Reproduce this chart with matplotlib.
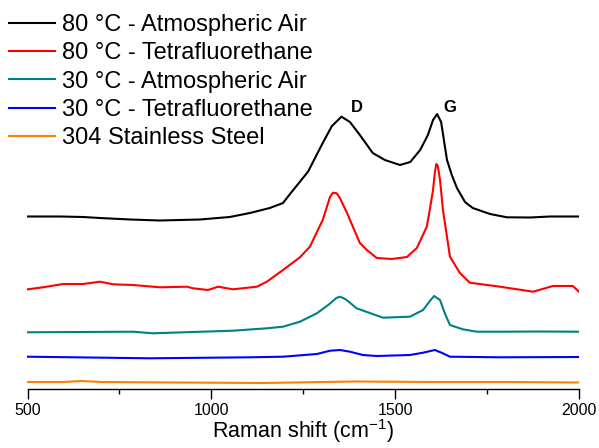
import numpy as np
import matplotlib.pyplot as plt
from matplotlib.ticker import MultipleLocator

plt.rcParams['font.family'] = ['Liberation Sans', 'DejaVu Sans']
plt.rcParams['mathtext.fontset'] = 'custom'
plt.rcParams['mathtext.rm'] = 'Liberation Sans'

# DATA (Raman shift in cm-1, intensity in arbitrary units, offset stacked)
labels = ['80 °C - Atmospheric Air', '80 °C - Tetrafluorethane',
          '30 °C - Atmospheric Air', '30 °C - Tetrafluorethane',
          '304 Stainless Steel']
colors = ['#000000', '#ff0000', '#008080', '#0000ff', '#ff8000']

air80_x = [501, 588, 651, 697, 779, 860, 969, 1050, 1105, 1159, 1195, 1214, 1241, 1263,
           1303, 1328, 1354, 1377, 1404, 1439, 1472, 1513, 1541, 1568, 1589, 1603, 1614,
           1625, 1641, 1654, 1668, 1690, 1711, 1758, 1804, 1867, 1921, 2000]
air80_y = [183.5, 183.5, 183, 182, 180.5, 179.5, 180.5, 183, 187, 192, 197, 206, 218.3, 228.3,
           257, 274, 283.3, 278, 265, 247, 240, 235, 238, 250, 265, 280, 286,
           278, 240, 225, 212, 198, 192, 186, 182.7, 182.5, 183.5, 183.5]

tfe80_x = [501, 542, 597, 651, 697, 733, 787, 860, 934, 950, 991, 1018, 1059, 1124, 1151,
           1195, 1241, 1268, 1303, 1323, 1331, 1341, 1350, 1369, 1404, 1423, 1450, 1491,
           1532, 1559, 1586, 1594, 1603, 1608, 1612, 1616, 1622, 1630, 1641, 1649, 1676,
           1703, 1785, 1875, 1929, 1983, 2000]
tfe80_y = [110.7, 112.7, 116, 116, 118.3, 115.7, 115, 112.7, 113.3, 111.7, 110, 113.3, 110.7,
           113.3, 118.3, 130, 142.7, 153.3, 180, 203.3, 207.3, 206.7, 201.7, 187, 157, 150,
           142, 141, 143, 152, 173.3, 190, 210, 228, 236, 234, 220, 190, 163, 143.3, 127,
           117.3, 113.3, 108.3, 114, 114, 108.3]

air30_x = [501, 787, 841, 1059, 1151, 1195, 1241, 1287, 1318, 1340, 1350, 1364, 1377, 1395,
           1467, 1540, 1576, 1595, 1606, 1622, 1635, 1649, 1684, 1722, 1785, 1894, 2000]
air30_y = [67.7, 68.3, 66.7, 69.3, 71.7, 73.3, 78.3, 86.7, 95, 102, 103.3, 101, 97.3, 91.7,
           82.3, 83.3, 90, 99.3, 104, 100, 86.7, 75, 70.7, 68.3, 68.3, 68.5, 68.3]

tfe30_x = [501, 833, 1105, 1195, 1287, 1323, 1350, 1377, 1412, 1450, 1540, 1576, 1608,
           1626, 1649, 1785, 2000]
tfe30_y = [43.3, 41.7, 42.7, 43.3, 46, 49.3, 50, 48.3, 45, 44, 45, 47.3, 50, 47.3, 43.3,
           42.7, 43]

ss304_x = [501, 600, 645, 700, 900, 1140, 1390, 1600, 1800, 2000]
ss304_y = [18, 18, 19, 18, 17.5, 17, 18.5, 18, 18, 17.5]

series = [(air80_x, air80_y), (tfe80_x, tfe80_y), (air30_x, air30_y),
          (tfe30_x, tfe30_y), (ss304_x, ss304_y)]

fig = plt.figure(figsize=(5.99, 4.48), dpi=100)
ax = fig.add_axes([27.5 / 599, 1 - 389 / 448, 551.5 / 599, 389 / 448])

for (xs, ys), lab, col in zip(series, labels, colors):
    ax.plot(xs, ys, color=col, lw=1.5, label=lab)

ax.set_xlim(500, 2000)
ax.set_ylim(11, 400)
ax.set_yticks([])
for s in ['top', 'right', 'left']:
    ax.spines[s].set_visible(False)
ax.spines['bottom'].set_linewidth(1.0)
ax.xaxis.set_major_locator(MultipleLocator(500))
ax.xaxis.set_minor_locator(MultipleLocator(250))
ax.tick_params(axis='x', which='major', direction='out', length=7, width=1.0,
               labelsize=11.5, pad=3)
ax.tick_params(axis='x', which='minor', direction='out', length=3.5, width=1.0)
ax.set_xlabel(r'Raman shift (cm$^{-1}$)', fontsize=15.5, labelpad=-0.5)

ax.text(1396, 292.5, 'D', fontsize=12, fontweight='bold', ha='center', va='center')
ax.text(1649, 293, 'G', fontsize=12, fontweight='bold', ha='center', va='center')

fig.legend(loc='upper left', bbox_to_anchor=(9 / 599, 1 - 14 / 448), frameon=False,
           fontsize=17, borderpad=0, borderaxespad=0, handlelength=1.95,
           handletextpad=0.3, labelspacing=0.27)

fig.savefig('out.png', dpi=100)
